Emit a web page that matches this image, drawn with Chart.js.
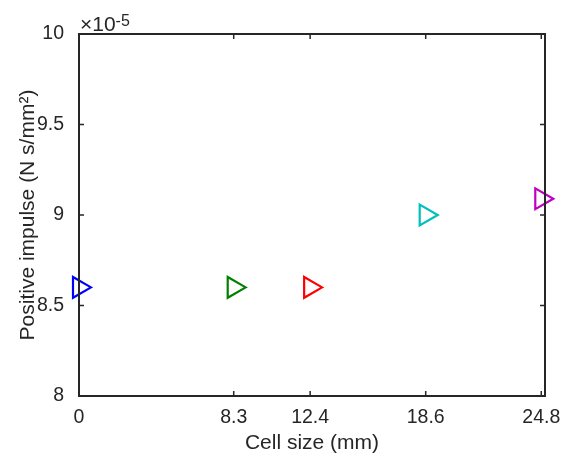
<!DOCTYPE html>
<html>
<head>
<meta charset="utf-8">
<script src="https://cdn.jsdelivr.net/npm/chart.js@4"></script>
<style>
  html, body { margin: 0; padding: 0; background: #fff; }
</style>
</head>
<body>
<canvas id="impulseChart" width="565" height="457"></canvas>
<script>
// data (impulse in units of 1e-5 N s/mm^2)
const cellSizes = [0, 8.3, 12.4, 18.6, 24.8];
const impulseValues = [8.6, 8.6, 8.6, 9.0, 9.09];
const markerColors = ['#0000ff', '#008000', '#ff0000', '#00bfbf', '#bf00bf'];
const xTickValues = [0, 8.3, 12.4, 18.6, 24.8];
const yTickValues = [8, 8.5, 9, 9.5, 10];

const axisColor = '#262626';
const fontFamily = '"Liberation Sans", Arial, sans-serif';

// box, inward ticks and the exponent label, drawn on top like MATLAB does
const axisFrame = {
    id: 'axisFrame',
    afterDraw(chart) {
        const { ctx, chartArea: a } = chart;
        const xs = chart.scales.x, ys = chart.scales.y;
        ctx.save();
        ctx.strokeStyle = axisColor;
        ctx.lineWidth = 2;
        ctx.strokeRect(a.left, a.top, a.right - a.left, a.bottom - a.top);

        ctx.lineWidth = 1.5;
        ctx.beginPath();
        xs.ticks.forEach(t => {
            const px = xs.getPixelForValue(t.value);
            ctx.moveTo(px, a.bottom); ctx.lineTo(px, a.bottom - 5);
            ctx.moveTo(px, a.top); ctx.lineTo(px, a.top + 5);
        });
        ys.ticks.forEach(t => {
            const py = ys.getPixelForValue(t.value);
            ctx.moveTo(a.left, py); ctx.lineTo(a.left + 5, py);
            ctx.moveTo(a.right, py); ctx.lineTo(a.right - 5, py);
        });
        ctx.stroke();

        ctx.fillStyle = axisColor;
        ctx.textBaseline = 'alphabetic';
        ctx.font = '21px ' + fontFamily;
        ctx.fillText('×10', a.left + 1, a.top - 3);
        const w = ctx.measureText('×10').width;
        ctx.font = '16px ' + fontFamily;
        ctx.fillText('-5', a.left + 1 + w, a.top - 8);
        ctx.restore();
    }
};

const ctx = document.getElementById('impulseChart').getContext('2d');
new Chart(ctx, {
    type: 'scatter',
    data: {
        datasets: [{
            data: cellSizes.map((x, i) => ({ x: x, y: impulseValues[i] })),
            pointStyle: 'triangle',
            rotation: 90,
            radius: 12,
            borderWidth: 2.2,
            pointBorderColor: markerColors,
            pointBackgroundColor: 'rgba(0,0,0,0)',
            showLine: false,
            clip: false
        }]
    },
    options: {
        responsive: false,
        animation: false,
        events: [],
        layout: { padding: { top: 34, right: 20, left: 0, bottom: 0 } },
        plugins: { legend: { display: false }, tooltip: { enabled: false } },
        scales: {
            x: {
                type: 'linear',
                min: 0,
                max: 25,
                afterBuildTicks: s => { s.ticks = xTickValues.map(v => ({ value: v })); },
                afterFit: s => { s.height = 61; },
                grid: { display: false },
                border: { display: false },
                ticks: {
                    color: axisColor,
                    font: { family: fontFamily, size: 19.5 },
                    padding: 2,
                    maxRotation: 0,
                    autoSkip: false,
                    callback: v => String(v)
                },
                title: {
                    display: true,
                    text: 'Cell size (mm)',
                    color: axisColor,
                    font: { family: fontFamily, size: 21 },
                    padding: { top: 0, bottom: 1 }
                }
            },
            y: {
                min: 8,
                max: 10,
                afterBuildTicks: s => { s.ticks = yTickValues.map(v => ({ value: v })); },
                afterFit: s => { s.width = 79; },
                grid: { display: false },
                border: { display: false },
                ticks: {
                    color: axisColor,
                    font: { family: fontFamily, size: 19.5 },
                    padding: 7,
                    callback: v => String(v)
                },
                title: {
                    display: true,
                    text: 'Positive impulse (N s/mm²)',
                    color: axisColor,
                    font: { family: fontFamily, size: 21 },
                    padding: { top: 16, bottom: 0 }
                }
            }
        }
    },
    plugins: [axisFrame]
});
</script>
</body>
</html>
